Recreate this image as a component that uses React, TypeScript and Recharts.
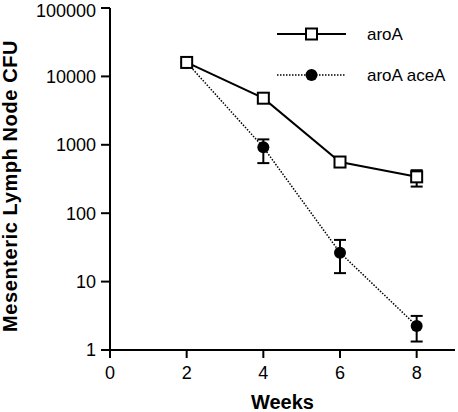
import { LineChart, Line, XAxis, YAxis, ErrorBar, Legend } from "recharts";

const weeks = [2, 4, 6, 8];
const aroA = [16000, 4800, 560, 340];
const aroAErr: ([number, number] | null)[] = [null, [700, 800], [80, 60], [95, 85]];
const aroAaceA = [16000, 920, 26.5, 2.25];
const aroAaceAErr: ([number, number] | null)[] = [null, [380, 280], [13.2, 14.2], [0.92, 0.9]];

const xTicks = [0, 2, 4, 6, 8];
const yTicks = [1, 10, 100, 1000, 10000, 100000];

const data = weeks.map((week, i) => ({
  week,
  aroA: aroA[i],
  aroAErr: aroAErr[i],
  aroAaceA: aroAaceA[i],
  aroAaceAErr: aroAaceAErr[i],
}));

const FONT = "'Liberation Sans', Arial, Helvetica, sans-serif";

const SquareDot = (props: any) => {
  const { cx, cy, index } = props;
  if (cx == null || cy == null) return null;
  return (
    <rect
      key={`sq-${index}`}
      x={cx - 5.5}
      y={cy - 5.5}
      width={11}
      height={11}
      fill="#fff"
      stroke="#000"
      strokeWidth={2}
    />
  );
};

const LegendBox = () => (
  <svg width={190} height={72} style={{ display: "block", fontFamily: FONT }}>
    <line x1={9} y1={17} x2={78} y2={17} stroke="#000" strokeWidth={2} />
    <rect x={38} y={11.5} width={11} height={11} fill="#fff" stroke="#000" strokeWidth={2} />
    <text x={99} y={17} dy="0.355em" fontSize={17} fill="#000">
      aroA
    </text>
    <line x1={9} y1={58} x2={78} y2={58} stroke="#000" strokeWidth={1.5} strokeDasharray="1.5 1.5" />
    <circle cx={43.5} cy={58} r={6} fill="#000" />
    <text x={99} y={58} dy="0.355em" fontSize={17} fill="#000">
      aroA aceA
    </text>
  </svg>
);

export default function App() {
  return (
    <div style={{ position: "absolute", left: 0, top: 0, background: "#fff" }}>
      <LineChart
        width={458}
        height={412}
        data={data}
        margin={{ top: 8, right: 3, left: 0, bottom: 0 }}
        style={{ fontFamily: FONT }}
      >
        <XAxis
          xAxisId="main"
          dataKey="week"
          type="number"
          domain={[0, 9]}
          ticks={xTicks}
          height={62}
          tickSize={8}
          tickMargin={8}
          allowDataOverflow
          axisLine={{ stroke: "#000", strokeWidth: 2 }}
          tickLine={{ stroke: "#000", strokeWidth: 2 }}
          tick={{ fill: "#000", fontSize: 18 }}
          label={{
            content: (p: any) => (
              <text
                x={p.viewBox.x + p.viewBox.width / 2}
                y={409}
                textAnchor="middle"
                fontSize={20}
                fontWeight="bold"
                fill="#000"
              >
                Weeks
              </text>
            ),
          }}
        />
        <XAxis
          xAxisId="top"
          orientation="top"
          dataKey="week"
          type="number"
          domain={[0, 9]}
          height={0}
          tick={false}
          tickLine={false}
          axisLine={{ stroke: "#000", strokeWidth: 2 }}
        />
        <YAxis
          yAxisId="main"
          scale="log"
          domain={[1, 100000]}
          ticks={yTicks}
          allowDataOverflow
          width={110}
          tickSize={9}
          tickMargin={5}
          tickFormatter={(v: number) => String(v)}
          axisLine={{ stroke: "#000", strokeWidth: 2 }}
          tickLine={{ stroke: "#000", strokeWidth: 2 }}
          tick={{ fill: "#000", fontSize: 18 }}
          label={{
            content: () => (
              <text
                x={17}
                y={186}
                transform="rotate(-90 17 186)"
                textAnchor="middle"
                fontSize={20}
                fontWeight="bold"
                letterSpacing={0.6}
                fill="#000"
              >
                Mesenteric Lymph Node CFU
              </text>
            ),
          }}
        />
        <YAxis
          yAxisId="right"
          orientation="right"
          scale="log"
          domain={[1, 100000]}
          width={0}
          tick={false}
          tickLine={false}
          axisLine={{ stroke: "#000", strokeWidth: 2 }}
        />
        <Legend
          layout="horizontal"
          verticalAlign="middle"
          align="center"
          wrapperStyle={{ left: 268, top: 17, width: 190, height: 72 }}
          content={() => <LegendBox />}
        />
        <Line
          xAxisId="main"
          yAxisId="main"
          dataKey="aroAaceA"
          name="aroA aceA"
          stroke="#000"
          strokeWidth={1.5}
          strokeDasharray="1.5 1.5"
          dot={{ r: 6, fill: "#000", stroke: "#000", strokeWidth: 0 }}
          activeDot={false}
          isAnimationActive={false}
        >
          <ErrorBar dataKey="aroAaceAErr" direction="y" width={6} stroke="#000" strokeWidth={2} />
        </Line>
        <Line
          xAxisId="main"
          yAxisId="main"
          dataKey="aroA"
          name="aroA"
          stroke="#000"
          strokeWidth={2}
          dot={SquareDot}
          activeDot={false}
          isAnimationActive={false}
        >
          <ErrorBar dataKey="aroAErr" direction="y" width={6} stroke="#000" strokeWidth={2} />
        </Line>
      </LineChart>
    </div>
  );
}
